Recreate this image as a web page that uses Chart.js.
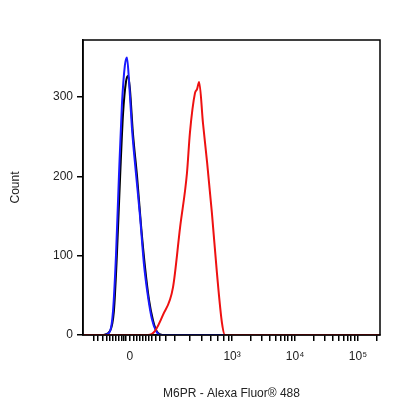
<!DOCTYPE html><html><head><style>body{margin:0;background:#fff}#w{width:416px;height:416px}</style>
<script src="https://cdn.jsdelivr.net/npm/chart.js@4"></script></head><body><div id="w"><canvas id="c"></canvas></div><script>
// x in plot units 0..100 (log-like display scale), labels at decades
const blueX=[7.4,9.1,10.1,11.1,12.1,13.1,14.1,14.8,15.5,16.5,17.8,19.2,20.5,21.9,23.2,24.6,26.2,100];
const blueY=[0,5,30,100,200,290,340,350,320,260,205,150,90,48,20,5,0,0];
const blackX=[7.0,9.1,10.4,11.4,12.5,13.5,14.5,15.2,15.8,16.8,18.2,19.5,20.9,22.2,23.6,24.9,26.6];
const blackY=[0,5,30,100,200,280,320,327,310,255,200,140,85,45,18,4,0];
const redX=[0,21.9,24.2,26.9,30.3,32.7,35.0,36.0,37.7,38.4,39.1,40.4,41.8,43.4,45.1,46.8,47.8,100];
const redY=[0,0,5,25,60,136,204,255,305,310,319,267,217,154,78,15,0,0];
const majorTicks=[{v:15.8,l:'0'},{v:50.2,l:'10³'},{v:71.4,l:'10⁴'},{v:92.6,l:'10⁵'}];
const yTicks=[0,100,200,300];
const minorTicks=[3.5,5,6.5,8,9,10,11,12,13,13.8,14.5,17,18,19,20,21,22,23,24.5,26,28,31,36,40,43,45.5,47.5,49,56.6,60.3,63,65,66.5,67.8,69,70.3,77.8,81.5,84.2,86.2,87.8,89.1,90.3,91.5,99];
const mk=(x,y)=>x.map((v,i)=>({x:v,y:y[i]}));
const frame={id:'frame',afterDraw(ch){const a=ch.chartArea,c=ch.ctx;c.save();c.strokeStyle='#000';c.lineWidth=1.5;c.strokeRect(a.left,a.top,a.right-a.left,a.bottom-a.top);c.restore();}};
const ds=(d,col)=>({data:d,borderColor:col,borderWidth:2,pointRadius:0,tension:0.3,cubicInterpolationMode:'monotone',fill:false});
new Chart(document.getElementById('c'),{type:'line',data:{datasets:[ds(mk(redX,redY),'#ee1111'),ds(mk(blueX,blueY),'#1a1aff'),ds(mk(blackX,blackY),'#000')]},
options:{responsive:true,maintainAspectRatio:false,animation:false,layout:{padding:{left:4,right:36,top:40,bottom:11}},
plugins:{legend:{display:false},tooltip:{enabled:false}},
scales:{x:{type:'linear',min:0,max:100,afterFit(s){s.height=70;},
 afterBuildTicks(s){s.ticks=[...majorTicks.map(t=>({value:t.v})),...minorTicks.map(v=>({value:v}))];},
 grid:{display:true,drawOnChartArea:false,tickLength:6,color:'#000',lineWidth:1.5},border:{color:'#000',width:1.5},
 ticks:{autoSkip:false,maxRotation:0,color:'#222',font:{family:'Liberation Sans',size:12},padding:8,callback(v){const m=majorTicks.find(t=>Math.abs(t.v-v)<0.01);return m?m.l:'';}},
 title:{display:true,text:'M6PR - Alexa Fluor® 488',color:'#222',font:{family:'Liberation Sans',size:12},padding:{top:6}}},
y:{min:0,max:372,afterFit(s){s.width=79;},afterBuildTicks(s){s.ticks=yTicks.map(v=>({value:v}));},
 grid:{display:true,drawOnChartArea:false,tickLength:6,color:'#000',lineWidth:1.5},border:{color:'#000',width:1.5},
 ticks:{color:'#222',font:{family:'Liberation Sans',size:12},padding:4},
 title:{display:true,text:'Count',color:'#222',font:{family:'Liberation Sans',size:12},padding:{bottom:22}}}}},plugins:[frame]});
</script></body></html>
